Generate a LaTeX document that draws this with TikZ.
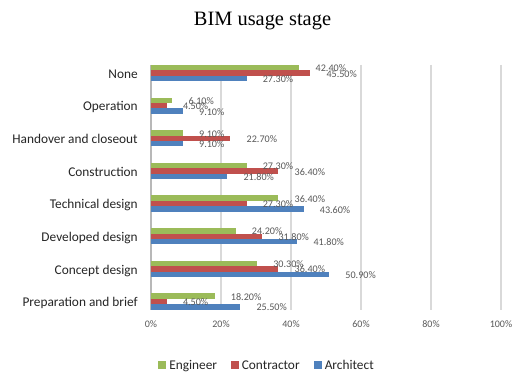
\documentclass[tikz,border=0pt]{standalone}
\usepackage{fontspec}
\setmainfont{Carlito}
\newfontfamily\titlefont{Liberation Serif}
\definecolor{engc}{HTML}{9BBB59}
\definecolor{conc}{HTML}{C0504D}
\definecolor{arcc}{HTML}{4F81BD}
\definecolor{gridc}{HTML}{D9D9D9}
\definecolor{lblc}{HTML}{595959}
\definecolor{txtc}{HTML}{262626}
\begin{document}
\begin{tikzpicture}[x=0.75pt,y=-0.75pt,
  titlestyle/.style={anchor=base,inner sep=0pt,font=\titlefont\fontsize{15.3}{17}\selectfont,text=black},
  gridline/.style={draw=gridc,line width=1.2pt},
  axisline/.style={draw=gridc!85!black,line width=0.9pt},
  ticklbl/.style={anchor=center,inner sep=0pt,font=\fontsize{7.5}{9}\selectfont,text=lblc},
  datalbl/.style={anchor=west,inner sep=0pt,font=\fontsize{7.6}{9}\selectfont,text=lblc},
  catlbl/.style={anchor=base east,inner sep=0pt,font=\fontsize{10}{12}\selectfont,text=txtc},
  legtxt/.style={anchor=base west,inner sep=0pt,font=\fontsize{10}{12}\selectfont,text=txtc},
  legbox/.style={minimum size=6pt,inner sep=0pt,anchor=north west}]
\useasboundingbox[fill=white] (0,0) rectangle (516,374);

% title
\node[titlestyle] (title) at (262.5,26) {BIM usage stage};

% value gridlines and category axis
\foreach \k in {1,...,5}
  \draw[gridline] ({151+70*\k},65) -- ({151+70*\k},310);
\draw[axisline] (151,65) -- (151,310);

% value axis labels
\foreach \k/\t in {0/0\%,1/20\%,2/40\%,3/60\%,4/80\%,5/100\%}
  \node[ticklbl] (tick\k) at ({151+70*\k},324) {\t};

% bar groups: engineer, contractor, architect
\foreach [count=\i from 0] \cat/\e/\es/\c/\cs/\a/\as in {
  None/42.4/42.40/45.5/45.50/27.3/27.30,
  Operation/6.1/6.10/4.5/4.50/9.1/9.10,
  Handover and closeout/9.1/9.10/22.7/22.70/9.1/9.10,
  Construction/27.3/27.30/36.4/36.40/21.8/21.80,
  Technical design/36.4/36.40/27.3/27.30/43.6/43.60,
  Developed design/24.2/24.20/31.8/31.80/41.8/41.80,
  Concept design/30.3/30.30/36.4/36.40/50.9/50.90,
  Preparation and brief/18.2/18.20/4.5/4.50/25.5/25.50}{
  \pgfmathsetmacro{\t}{65+32.62*\i}
  \fill[engc] (151,\t) rectangle ({151+3.5*\e},{\t+5.4});
  \fill[conc] (151,{\t+5.4}) rectangle ({151+3.5*\c},{\t+10.8});
  \fill[arcc] (151,{\t+10.8}) rectangle ({151+3.5*\a},{\t+16.2});
  \node[datalbl] (e\i) at ({151+3.5*\e+16},{\t+3.4}) {\es\%};
  \node[datalbl] (c\i) at ({151+3.5*\c+16},{\t+8.8}) {\cs\%};
  \node[datalbl] (a\i) at ({151+3.5*\a+16},{\t+14.2}) {\as\%};
  \node[catlbl] (cat\i) at (138,{\t+13.3}) {\cat};
}

% legend
\node[legbox,fill=engc] (lk1) at (158,361) {};
\node[legtxt] (lt1) at (169,369.5) {Engineer};
\node[legbox,fill=conc] (lk2) at (231,361) {};
\node[legtxt] (lt2) at (241.5,369.5) {Contractor};
\node[legbox,fill=arcc] (lk3) at (314,361) {};
\node[legtxt] (lt3) at (324.5,369.5) {Architect};
\end{tikzpicture}
\end{document}
